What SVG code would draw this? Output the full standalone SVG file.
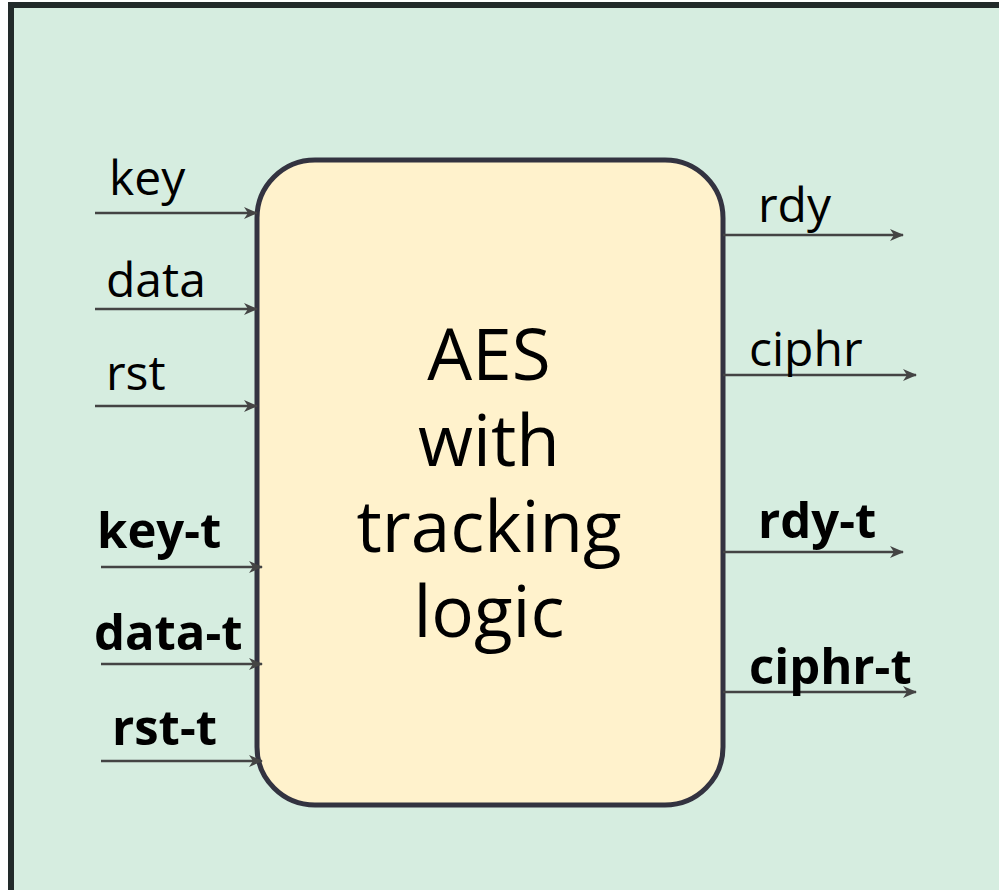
<svg xmlns="http://www.w3.org/2000/svg" width="999" height="890" viewBox="0 0 999 890">
<defs>
<style>
.lbl{font-family:"Open Sans","Noto Sans",sans-serif;font-size:48px;fill:#000}
.b{font-weight:bold;font-size:49px}
.main{font-family:"Open Sans","Noto Sans",sans-serif;font-size:71px;fill:#000;text-anchor:middle}
.wire{stroke:#444;stroke-width:2.5;fill:none;marker-end:url(#ah)}
</style>
<marker id="ah" viewBox="0 0 14 12" refX="13" refY="6" markerWidth="14" markerHeight="12" markerUnits="userSpaceOnUse" orient="auto">
<path d="M0,0 L14,6 L0,12 L4,6 Z" fill="#444"/>
</marker>
</defs>
<rect x="11" y="5" width="1000" height="900" fill="#d6ede0" stroke="#222a2a" stroke-width="6"/>
<g id="aes">
<rect x="257" y="160" width="466" height="645" rx="58" ry="58" fill="#fff2cc" stroke="#333340" stroke-width="5"/>
<text class="main"><tspan x="489" y="380">AES</tspan><tspan x="489" y="466">with</tspan><tspan x="489" y="552">tracking</tspan><tspan x="489" y="637">logic</tspan></text>
</g>
<g id="connectors">
<line class="wire" x1="95" y1="213" x2="257" y2="213"/>
<line class="wire" x1="95" y1="309" x2="257" y2="309"/>
<line class="wire" x1="95" y1="406" x2="257" y2="406"/>
<line class="wire" x1="101" y1="567" x2="262" y2="567"/>
<line class="wire" x1="101" y1="664" x2="262" y2="664"/>
<line class="wire" x1="101" y1="761" x2="262" y2="761"/>
<line class="wire" x1="723" y1="235" x2="903" y2="235"/>
<line class="wire" x1="723" y1="375" x2="916" y2="375"/>
<line class="wire" x1="723" y1="552" x2="903" y2="552"/>
<line class="wire" x1="723" y1="692" x2="916" y2="692"/>
</g>
<g id="labels">
<text class="lbl" x="109" y="195">key</text>
<text class="lbl" x="106" y="297">data</text>
<text class="lbl" x="106" y="390">rst</text>
<text class="lbl b" x="97" y="548">key-t</text>
<text class="lbl b" x="94" y="650">data-t</text>
<text class="lbl b" x="112" y="745">rst-t</text>
<text class="lbl" x="758" y="222">rdy</text>
<text class="lbl" x="749" y="366">ciphr</text>
<text class="lbl b" x="758" y="538">rdy-t</text>
<text class="lbl b" x="749" y="684">ciphr-t</text>
</g>
</svg>
